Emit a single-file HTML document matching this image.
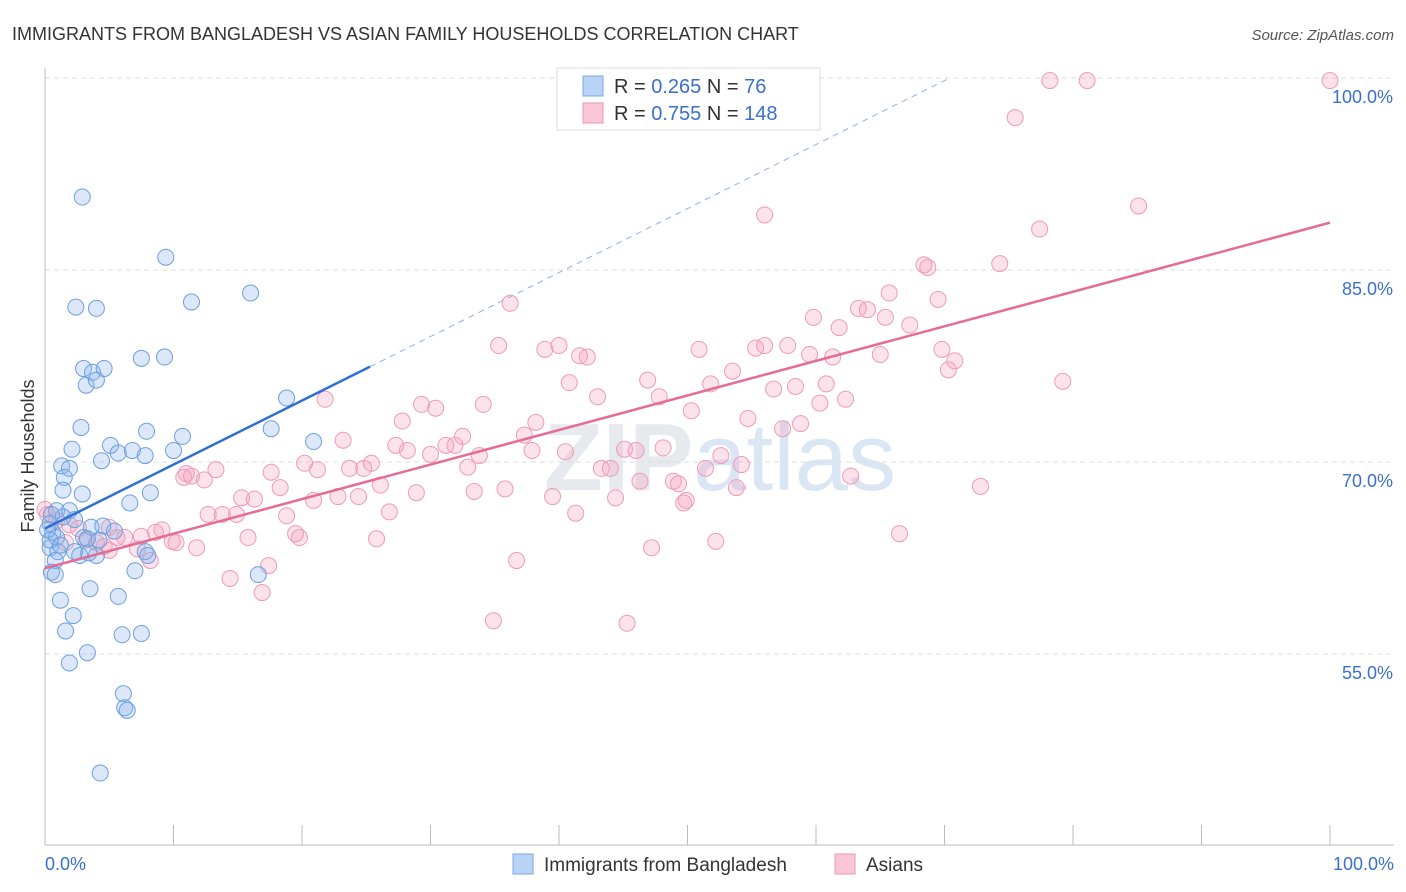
<!DOCTYPE html>
<html><head><meta charset="utf-8"><style>
body{margin:0;background:#fff;font-family:"Liberation Sans",sans-serif;}
svg{display:block}
</style></head><body>
<svg id="c" width="1406" height="892" xmlns="http://www.w3.org/2000/svg">
<text x="12" y="40" font-size="18" fill="#333">IMMIGRANTS FROM BANGLADESH VS ASIAN FAMILY HOUSEHOLDS CORRELATION CHART</text>
<text x="1394" y="40" font-size="15" fill="#555" font-style="italic" text-anchor="end">Source: ZipAtlas.com</text>
<text x="720" y="490" font-size="96" font-weight="bold" fill="#e6e9ee" text-anchor="middle">ZIP<tspan fill="#dbe6f5" font-weight="normal">atlas</tspan></text>
<text transform="translate(34,456) rotate(-90)" font-size="18" fill="#333" text-anchor="middle">Family Households</text>
<g id="grid"></g><g id="axes"></g><g id="pts"></g><g id="lines"></g>
<g>
<rect x="557" y="68" width="263" height="62" fill="#fff" stroke="#ddd"/>
<rect x="583" y="76" width="20" height="20" fill="#b8d3f5" stroke="#7aa8e6"/>
<rect x="583" y="103" width="20" height="20" fill="#f9c6d6" stroke="#eb95b0"/>
<text x="614" y="93" font-size="20" fill="#333">R = <tspan fill="#3a6fd0">0.265</tspan>   N =  <tspan fill="#3a6fd0">  76</tspan></text>
<text x="614" y="120" font-size="20" fill="#333">R = <tspan fill="#3a6fd0">0.755</tspan>   N = <tspan fill="#3a6fd0">148</tspan></text>
</g>
<g>
<rect x="513" y="854" width="20" height="20" fill="#b8d3f5" stroke="#7aa8e6"/>
<text x="544" y="871" font-size="19" fill="#333">Immigrants from Bangladesh</text>
<rect x="835" y="854" width="20" height="20" fill="#f9c6d6" stroke="#eb95b0"/>
<text x="866" y="871" font-size="19" fill="#333">Asians</text>
</g>
</svg>
<script>
const yTicks=[100,85,70,55];
const yTickLabels=["100.0%","85.0%","70.0%","55.0%"];
const xTickLabels=["0.0%","100.0%"];
const blueX=[2.9,9.4,2.4,4.0,11.4,16.0,3.0,3.7,4.6,7.5,9.3,3.2,4.0,18.8,2.8,7.9,10.7,17.6,20.9,2.1,5.1,5.7,6.8,7.8,10.0,4.4,1.3,1.9,1.5,1.4,2.9,8.2,6.6,0.9,1.9,1.4,2.3,3.6,5.4,4.5,0.4,0.6,0.9,3.0,4.2,0.4,1.0,2.3,2.7,4.0,3.4,7.8,8.0,0.8,0.5,0.8,7.0,16.6,3.5,1.2,5.7,2.2,1.6,6.0,7.5,3.3,1.9,6.1,6.2,6.4,4.3,0.4,1.2,0.2,0.5,3.3];
const blueY=[90.7,86.0,82.1,82.0,82.5,83.2,77.3,77.0,77.3,78.1,78.2,76.0,76.4,75.0,72.7,72.4,72.0,72.6,71.6,71.0,71.3,70.7,70.9,70.5,70.9,70.1,69.7,69.5,68.8,67.8,67.5,67.6,66.8,66.2,66.2,65.7,65.5,64.9,64.6,65.0,65.2,64.5,64.1,64.1,63.9,63.3,63.0,63.0,62.7,62.7,62.9,63.0,62.7,62.3,61.4,61.2,61.5,61.2,60.1,59.2,59.5,58.0,56.8,56.5,56.6,55.1,54.3,51.9,50.8,50.6,45.7,63.9,63.5,64.7,65.9,64.0];
const pinkX=[78.2,81.1,100,75.5,56.0,85.1,77.4,68.4,68.7,74.3,36.2,65.7,69.5,63.3,64.0,59.8,65.4,61.8,67.3,35.3,38.9,40.0,41.6,42.2,50.9,55.3,56.0,57.8,59.5,61.3,65.0,69.8,70.8,70.3,79.2,40.8,46.9,51.8,53.5,56.7,58.4,60.8,21.8,29.3,30.4,34.1,27.8,38.2,43.0,47.8,50.3,54.7,57.4,58.8,60.3,62.3,23.2,27.3,31.9,32.5,37.3,37.9,40.5,45.1,46.0,48.1,52.6,33.8,31.2,30.0,25.4,24.8,20.2,23.7,21.2,32.9,28.2,43.3,44.0,54.2,11.0,13.3,17.6,10.8,11.4,12.4,26.1,28.9,33.4,35.8,39.5,44.4,46.3,48.9,49.3,53.8,62.7,72.8,15.3,16.3,18.3,20.9,22.8,24.4,51.4,49.7,12.7,13.8,14.9,18.8,26.8,41.3,49.9,0,0.2,0.9,1.9,2.6,5.0,6.2,7.5,8.6,9.1,10.2,15.8,19.5,19.8,25.8,1.6,3.2,4.0,4.6,5.6,7.2,8.2,9.9,11.8,5.0,17.4,14.4,16.9,36.7,47.2,52.2,66.5,34.9,45.3];
const pinkY=[99.8,99.8,99.8,96.9,89.3,90.0,88.2,85.4,85.2,85.5,82.4,83.2,82.7,82.0,81.9,81.3,81.3,80.5,80.7,79.1,78.8,79.1,78.3,78.2,78.8,78.9,79.1,79.1,78.4,78.2,78.4,78.8,77.9,77.2,76.3,76.2,76.4,76.1,77.1,75.7,75.9,76.1,74.9,74.5,74.2,74.5,73.2,73.1,75.1,75.1,74.0,73.4,72.6,73.0,74.6,74.9,71.7,71.3,71.3,72.0,72.1,70.9,70.8,71.0,70.9,71.1,70.5,70.5,71.3,70.6,69.9,69.5,69.9,69.5,69.4,69.6,70.9,69.5,69.5,69.8,69.1,69.4,69.2,68.8,68.9,68.6,68.2,67.6,67.7,67.9,67.3,67.2,68.5,68.5,68.3,68.0,68.9,68.1,67.2,67.1,68.0,67.0,67.3,67.3,69.5,66.8,65.9,65.9,65.9,65.8,66.1,66.0,67.0,66.3,65.9,65.4,65.1,64.8,64.9,64.1,64.2,64.5,64.7,63.7,64.1,64.4,64.1,64.0,63.7,63.9,63.7,63.4,64.1,63.2,62.3,63.8,63.3,63.1,61.9,60.9,59.8,62.3,63.3,63.8,64.4,57.6,57.4];
const blueFit=[64.8,0.5], pinkFit=[61.7,0.27];
const X0=45,X1=1330,Y100=78,PXPER=12.8;
const sx=v=>X0+(X1-X0)*v/100, sy=v=>Y100+(100-v)*PXPER;
const NS="http://www.w3.org/2000/svg";
function mk(p,t,a){const e=document.createElementNS(NS,t);for(const k in a)e.setAttribute(k,a[k]);p.appendChild(e);return e;}
const grid=document.getElementById('grid'),axes=document.getElementById('axes'),pts=document.getElementById('pts'),lines=document.getElementById('lines');
yTicks.forEach((v,i)=>{
 const l=mk(grid,'line',{x1:X0,x2:1394,y1:sy(v),y2:sy(v),stroke:'#ddd','stroke-dasharray':'5,4'});
 
 
 const t=mk(grid,'text',{x:1393,y:sy(v)+25,'font-size':18,fill:'#3a6fd0','text-anchor':'end'});
 t.textContent=yTickLabels[i];
 
 
});
const ya=mk(axes,'line',{x1:X0,x2:X0,y1:68,y2:845,stroke:'#bbb'});


const xa=mk(axes,'line',{x1:X0,x2:1394,y1:845,y2:845,stroke:'#bbb'});


for(let i=0;i<=10;i++){
 const tk=mk(axes,'line',{x1:sx(i*10),x2:sx(i*10),y1:825,y2:845,stroke:'#bbb'});
 
 
}
[[0,'start',X0],[1,'end',1394]].forEach(([i,a,x])=>{
 const t=mk(axes,'text',{x:x,y:870,'font-size':18,fill:'#3a6fd0','text-anchor':a});
 t.textContent=xTickLabels[i];
 
 
});
pinkX.forEach((x,i)=>{
 const c=mk(pts,'circle',{cx:sx(x),cy:sy(pinkY[i]),r:8,fill:'rgba(244,160,190,0.3)',stroke:'#ee9bb6','stroke-width':1});
 
 
});
blueX.forEach((x,i)=>{
 const c=mk(pts,'circle',{cx:sx(x),cy:sy(blueY[i]),r:8,fill:'rgba(140,180,235,0.3)',stroke:'#6c9fe0','stroke-width':1});
 
 
});
const f=(fit,x)=>fit[0]+fit[1]*x;
const bl=mk(lines,'line',{x1:sx(0),y1:sy(f(blueFit,0)),x2:sx(25.3),y2:sy(f(blueFit,25.3)),stroke:'#2e6fd6','stroke-width':2.5});


const xEnd=(100-blueFit[0])/blueFit[1];
const bd=mk(lines,'line',{x1:sx(25.3),y1:sy(f(blueFit,25.3)),x2:sx(xEnd),y2:sy(100),stroke:'#8fb0e6','stroke-width':1,'stroke-dasharray':'6,5'});


const pl=mk(lines,'line',{x1:sx(0),y1:sy(f(pinkFit,0)),x2:sx(100),y2:sy(f(pinkFit,100)),stroke:'#e46c95','stroke-width':2.5});


</script>
</body></html>
